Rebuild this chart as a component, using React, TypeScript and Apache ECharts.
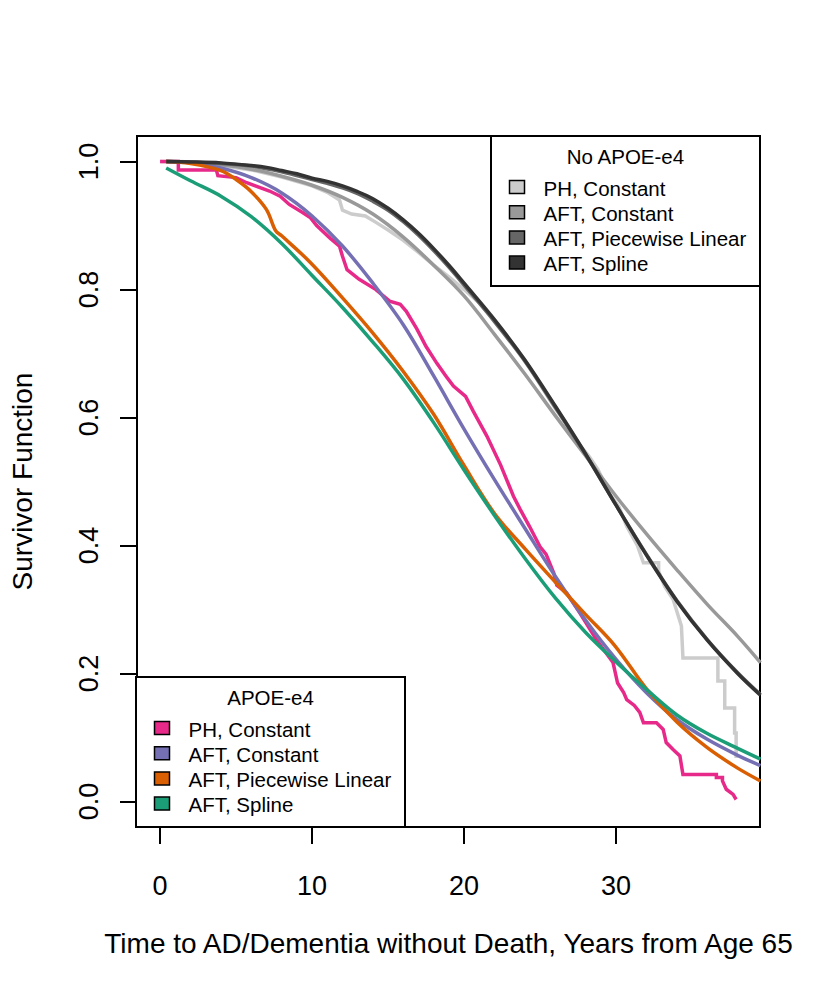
import React, { useEffect, useRef } from "react";
import * as echarts from "echarts";

const xTicks = [0, 10, 20, 30];
const yTicks = [0, 0.2, 0.4, 0.6, 0.8, 1.0];
const xTitle = "Time to AD/Dementia without Death, Years from Age 65";
const yTitle = "Survivor Function";

const legendLabels = ["PH, Constant", "AFT, Constant", "AFT, Piecewise Linear", "AFT, Spline"];
const apoeColors = ["#E7298A", "#7570B3", "#D95F02", "#1B9E77"];
const noApoeColors = ["#CCCCCC", "#999999", "#666666", "#333333"];

// APOE-e4 group
const apoePH: [number, number][] = [
  [0, 1.0], [1.2, 1.0], [1.2, 0.987], [3.7, 0.987], [3.8, 0.978], [5.0, 0.975], [5.7, 0.967],
  [7.2, 0.954], [7.9, 0.946], [8.5, 0.933], [9.4, 0.92], [9.9, 0.912], [10.3, 0.9], [11.2, 0.88],
  [11.8, 0.868], [12.0, 0.852], [12.3, 0.831], [13.1, 0.816], [14.2, 0.8], [15.1, 0.782],
  [15.8, 0.777], [16.2, 0.766], [16.9, 0.738], [17.5, 0.711], [18.2, 0.685], [18.8, 0.665],
  [19.3, 0.649], [20.1, 0.633], [20.6, 0.61], [21.5, 0.571], [22.4, 0.526], [23.25, 0.477],
  [23.7, 0.456], [24.3, 0.43], [25.0, 0.398], [25.4, 0.386], [25.9, 0.357], [26.1, 0.338],
  [26.75, 0.326], [27.6, 0.295], [28.7, 0.253], [29.8, 0.217], [30.1, 0.185], [30.5, 0.17],
  [30.7, 0.159], [31.2, 0.15], [31.56, 0.139], [31.8, 0.123], [32.66, 0.123], [33.1, 0.1125],
  [33.3, 0.092], [33.75, 0.081], [34.2, 0.071], [34.4, 0.042], [36.6, 0.042], [36.6, 0.0375],
  [37.0, 0.0375], [37.0, 0.032], [37.25, 0.019], [37.7, 0.011], [37.9, 0.003],
];
const apoeAftConst: [number, number][] = [
  [0.4, 1.0], [2, 0.998], [4, 0.99], [6, 0.975], [8, 0.951], [10, 0.915], [12, 0.868], [14, 0.81],
  [16, 0.745], [18, 0.665], [20, 0.582], [22, 0.503], [24, 0.427], [26, 0.352], [28, 0.283],
  [30, 0.222], [32, 0.17], [34, 0.128], [36, 0.097], [38, 0.072], [39.5, 0.056],
];
const apoeAftPw: [number, number][] = [
  [0.4, 1.0], [2, 0.997], [4, 0.986], [5, 0.972], [6, 0.953], [7, 0.925], [7.6, 0.892], [8, 0.884],
  [9.9, 0.842], [12, 0.787], [14, 0.732], [16, 0.672], [18, 0.605], [20, 0.525], [22, 0.45],
  [24, 0.395], [26, 0.343], [28, 0.292], [29.9, 0.244], [32, 0.176], [34, 0.124], [36, 0.084],
  [38, 0.052], [39.5, 0.032],
];
const apoeAftSpline: [number, number][] = [
  [0.4, 0.99], [2, 0.97], [4, 0.946], [6, 0.914], [8, 0.872], [10, 0.822], [12, 0.772], [14, 0.718],
  [16, 0.66], [18, 0.592], [20, 0.518], [22, 0.447], [24, 0.38], [26, 0.318], [28, 0.264],
  [30, 0.218], [32, 0.175], [34, 0.135], [36, 0.106], [38, 0.083], [39.5, 0.066],
];

// No APOE-e4 group
const noPH: [number, number][] = [
  [0, 1.0], [2, 0.998], [4, 0.994], [6, 0.987], [8, 0.976], [10, 0.962], [11, 0.952], [11.8, 0.94],
  [12.0, 0.924], [12.6, 0.918], [13.5, 0.915], [14.2, 0.905], [15, 0.893], [16, 0.877], [17, 0.858],
  [18, 0.838], [19, 0.82], [20, 0.8], [21, 0.779], [22, 0.752], [23, 0.722], [24, 0.69], [25, 0.652],
  [26, 0.614], [26.8, 0.588], [27.5, 0.56], [28.2, 0.54], [28.8, 0.519], [29.6, 0.48], [30.2, 0.46],
  [30.7, 0.43], [31.4, 0.4], [31.8, 0.373], [32.8, 0.373], [32.8, 0.36], [33.2, 0.336],
  [33.75, 0.316], [34.3, 0.274], [34.4, 0.224], [36.7, 0.224], [36.7, 0.188], [37.15, 0.188],
  [37.15, 0.146], [37.8, 0.146], [37.8, 0.107], [37.9, 0.107], [37.9, 0.068],
];
const noAftConst: [number, number][] = [
  [0.4, 1.0], [2, 0.999], [4, 0.995], [6, 0.988], [8, 0.977], [10, 0.963], [12, 0.944], [14, 0.918],
  [16, 0.882], [18, 0.838], [20, 0.79], [22, 0.73], [24, 0.668], [26, 0.603], [28, 0.54],
  [30, 0.477], [32, 0.418], [34, 0.362], [36, 0.308], [38, 0.258], [39.5, 0.217],
];
const noAftPw: [number, number][] = [
  [0.4, 1.0], [2, 0.9995], [4, 0.997], [6, 0.993], [8, 0.984], [10, 0.972], [11, 0.966],
  [12, 0.959], [13, 0.95], [14, 0.938], [15, 0.924], [16, 0.906], [17, 0.885], [18, 0.861],
  [19, 0.835], [20, 0.807], [22, 0.75], [24, 0.688], [26, 0.616], [28, 0.542],
  [30, 0.463], [32, 0.386], [34, 0.314], [36, 0.253], [38, 0.201], [39.5, 0.167],
];
const noAftSpline: [number, number][] = [
  [0.4, 1.0], [2, 0.9995], [4, 0.998], [6, 0.994], [7, 0.991], [8, 0.986], [9, 0.981], [10, 0.974],
  [11, 0.969], [12, 0.962], [13, 0.953], [14, 0.942], [15, 0.927], [16, 0.909], [17, 0.888],
  [18, 0.864], [19, 0.838], [20, 0.81], [22, 0.753], [24, 0.69], [26, 0.618], [28, 0.543],
  [30, 0.463], [32, 0.385], [34, 0.313], [36, 0.252], [38, 0.2], [39.5, 0.166],
];

const FONT = "'Liberation Sans', Arial, Helvetica, sans-serif";

function legendBlock(x: number, y: number, title: string, colors: string[]) {
  const children: any[] = [
    {
      type: "rect",
      shape: { x: 0, y: 0, width: 269, height: 150 },
      style: { fill: "#fff", stroke: "#000", lineWidth: 2 },
    },
    {
      type: "text",
      x: 134.5,
      y: 20,
      style: { text: title, font: `20.5px ${FONT}`, fill: "#000", align: "center", verticalAlign: "middle" },
    },
  ];
  legendLabels.forEach((lab, i) => {
    const cy = 51 + i * 25.2;
    children.push({
      type: "rect",
      shape: { x: 18.5, y: cy - 6.5, width: 15, height: 13 },
      style: { fill: colors[i], stroke: "#000", lineWidth: 1.5 },
    });
    children.push({
      type: "text",
      x: 52.5,
      y: cy + 1,
      style: { text: lab, font: `20.5px ${FONT}`, fill: "#000", align: "left", verticalAlign: "middle" },
    });
  });
  return { type: "group", x, y, z: 100, children };
}

function lineSeries(name: string, data: [number, number][], color: string, smooth: boolean) {
  return {
    name,
    type: "line",
    data,
    showSymbol: false,
    smooth: smooth ? 0.35 : false,
    clip: true,
    lineStyle: { color, width: 3.5, cap: "butt", join: "miter" },
    emphasis: { disabled: true },
  };
}

export default function App() {
  const ref = useRef<HTMLDivElement>(null);
  useEffect(() => {
    const chart = echarts.init(ref.current!, null, { renderer: "svg" });
    chart.setOption({
      animation: false,
      backgroundColor: "#fff",
      textStyle: { fontFamily: FONT },
      grid: {
        left: 136,
        top: 136,
        right: 70,
        bottom: 170,
        show: true,
        borderColor: "#000",
        borderWidth: 2,
        backgroundColor: "transparent",
      },
      xAxis: {
        type: "value",
        min: -1.52,
        max: 39.47,
        splitLine: { show: false },
        axisLine: { show: false, onZero: false },
        axisTick: { show: true, customValues: xTicks, length: 17, lineStyle: { color: "#000", width: 2 } },
        axisLabel: { customValues: xTicks, color: "#000", fontSize: 27, fontFamily: FONT, margin: 45 },
        name: xTitle,
        nameLocation: "middle",
        nameGap: 102,
        nameTextStyle: { color: "#000", fontSize: 28, fontFamily: FONT },
      },
      yAxis: {
        type: "value",
        min: -0.04,
        max: 1.04,
        splitLine: { show: false },
        axisLine: { show: false, onZero: false },
        axisTick: { show: true, customValues: yTicks, length: 17, lineStyle: { color: "#000", width: 2 } },
        axisLabel: {
          customValues: yTicks,
          color: "#000",
          fontSize: 27,
          fontFamily: FONT,
          rotate: 90,
          margin: 35,
          formatter: (v: number) => v.toFixed(1),
        },
        name: yTitle,
        nameLocation: "middle",
        nameRotate: 90,
        nameGap: 101,
        nameTextStyle: { color: "#000", fontSize: 28, fontFamily: FONT },
      },
      series: [
        lineSeries("No APOE-e4 PH, Constant", noPH, noApoeColors[0], false),
        lineSeries("APOE-e4 PH, Constant", apoePH, apoeColors[0], false),
        lineSeries("No APOE-e4 AFT, Constant", noAftConst, noApoeColors[1], true),
        lineSeries("APOE-e4 AFT, Constant", apoeAftConst, apoeColors[1], true),
        lineSeries("No APOE-e4 AFT, Piecewise Linear", noAftPw, noApoeColors[2], true),
        lineSeries("APOE-e4 AFT, Piecewise Linear", apoeAftPw, apoeColors[2], true),
        lineSeries("No APOE-e4 AFT, Spline", noAftSpline, noApoeColors[3], true),
        lineSeries("APOE-e4 AFT, Spline", apoeAftSpline, apoeColors[3], true),
      ],
      graphic: [legendBlock(491, 136, "No APOE-e4", noApoeColors), legendBlock(136, 677, "APOE-e4", apoeColors)],
    });
    return () => chart.dispose();
  }, []);
  return (
    <div
      ref={ref}
      style={{ position: "absolute", left: 0, top: 0, width: 830, height: 997, background: "#fff" }}
    />
  );
}
